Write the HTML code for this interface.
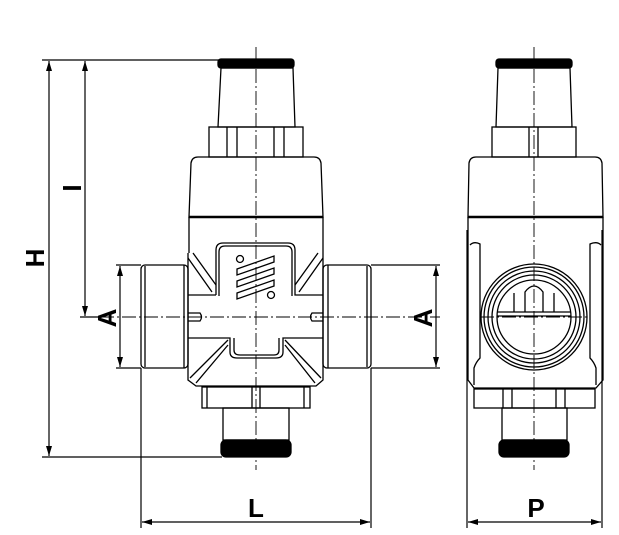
<!DOCTYPE html>
<html><head><meta charset="utf-8"><style>html,body{margin:0;padding:0;background:#fff}svg{display:block}</style></head>
<body>
<svg width="619" height="535" viewBox="0 0 619 535" xmlns="http://www.w3.org/2000/svg" fill="none" stroke="#000" stroke-width="1.3" font-family="Liberation Sans, sans-serif">
<defs>
<marker id="ar" viewBox="0 0 10 6" refX="10" refY="3" markerWidth="10" markerHeight="6" orient="auto-start-reverse" markerUnits="userSpaceOnUse"><path d="M0,0 L10,3 L0,6 Z" fill="#000" stroke="none"/></marker>
</defs>
<g stroke-width="1.2">
<line x1="42" y1="60" x2="219" y2="60"/>
<line x1="42" y1="457" x2="222" y2="457"/>
<line x1="49" y1="61" x2="49" y2="456" marker-start="url(#ar)" marker-end="url(#ar)"/>
<line x1="85" y1="61" x2="85" y2="316" marker-start="url(#ar)" marker-end="url(#ar)"/>
<line x1="80" y1="317" x2="100" y2="317"/>
<line x1="116" y1="265" x2="141" y2="265"/><line x1="116" y1="368" x2="141" y2="368"/>
<line x1="120" y1="266" x2="120" y2="367" marker-start="url(#ar)" marker-end="url(#ar)"/>
<line x1="371" y1="265" x2="440" y2="265"/><line x1="371" y1="368" x2="440" y2="368"/>
<line x1="436" y1="266" x2="436" y2="367" marker-start="url(#ar)" marker-end="url(#ar)"/>
<line x1="141" y1="368" x2="141" y2="528"/><line x1="371" y1="368" x2="371" y2="528"/>
<line x1="142" y1="522" x2="370" y2="522" marker-start="url(#ar)" marker-end="url(#ar)"/>
<line x1="467" y1="230" x2="467" y2="528"/><line x1="602" y1="230" x2="602" y2="528"/>
<line x1="468" y1="522" x2="601" y2="522" marker-start="url(#ar)" marker-end="url(#ar)"/>
</g>
<g fill="#000" stroke="none" font-weight="bold" font-size="26" text-anchor="middle">
<text transform="translate(44,258) rotate(-90)">H</text>
<text transform="translate(81,188) rotate(-90)">I</text>
<text transform="translate(116,318) rotate(-90)">A</text>
<text transform="translate(432,318) rotate(-90)">A</text>
<text x="256" y="517">L</text>
<text x="536" y="517">P</text>
</g>
<g stroke-width="0.9" stroke-dasharray="14,3,2,3">
<line x1="256" y1="47" x2="256" y2="470"/>
<line x1="534" y1="47" x2="534" y2="470"/>
<line x1="100" y1="317" x2="440" y2="317"/>
<line x1="480" y1="317" x2="590" y2="317"/>
</g>
<!-- LEFT VIEW -->
<rect x="218" y="59" width="76" height="9" rx="3" fill="#000"/>
<path d="M221,68 L293,68 L295,127 L218,127 Z"/>
<rect x="209" y="127" width="94" height="30"/>
<path d="M227,127V157M237,127V157M274,127V157M284,127V157"/>
<path d="M189,217 L191,163 Q192,157 198,157 L314,157 Q320,157 321,163 L323,217 Z"/>
<line x1="189" y1="217" x2="323" y2="217" stroke-width="2.5"/>
<path d="M189,217 V253 M323,217 V253"/>
<rect x="141" y="265" width="47" height="103" rx="4"/>
<line x1="145" y1="266" x2="145" y2="367"/>
<line x1="184" y1="265" x2="184" y2="368"/>
<rect x="323" y="265" width="48" height="103" rx="4"/>
<line x1="367" y1="266" x2="367" y2="367"/>
<line x1="328" y1="265" x2="328" y2="368"/>
<path d="M188,253 V380 L196,386 H316 L323,380 V253"/>
<path d="M216,295 V250 Q216,243 223,243 H288 Q295,243 295,250 V295 H323"/>
<path d="M188,295 H216"/>
<path d="M219,296 V252 Q219,246 225,246 H286 Q292,246 292,252 V296"/>
<path d="M188,258 L212,292 M193,253 L216,285 M323,258 L299,292 M318,253 L295,285"/>
<path d="M188,338 H230 V352 Q230,358 237,358 H276 Q283,358 283,352 V338 H323"/>
<path d="M234,338 V350 Q234,355 240,355 H274 Q279,355 279,350 V338"/>
<path d="M228,340 L190,378 M228,345 L196,383 M285,340 L321,378 M285,345 L315,383"/>
<path d="M188,313 H200 Q203,317 200,321 H188 M323,313 H312 Q309,317 312,321 H323"/>
<circle cx="240" cy="259" r="3.5"/><circle cx="271" cy="295" r="3.5"/>
<path d="M237,269 L274,256 L274,262 L237,275 Z M237,281 L274,268 L274,274 L237,287 Z M237,293 L274,280 L274,286 L237,299 Z"/>
<rect x="202" y="387" width="108" height="21"/>
<path d="M207,387V408M252,387V408M260,387V408M304,387V408"/>
<rect x="223" y="408" width="66" height="32"/>
<rect x="221" y="440" width="70" height="17" rx="5" fill="#000"/>
<!-- RIGHT VIEW -->
<rect x="496" y="59" width="76" height="9" rx="3" fill="#000"/>
<path d="M498,68 L570,68 L572,127 L496,127 Z"/>
<rect x="492" y="127" width="84" height="30"/>
<path d="M529,127V157M538,127V157"/>
<path d="M468,217 L469,163 Q470,157 476,157 L595,157 Q601,157 602,163 L603,217 Z"/>
<line x1="468" y1="217" x2="603" y2="217" stroke-width="2.5"/>
<path d="M468,217 V380 L474,388 H596 L603,380 V217"/>
<path d="M470,245 Q474,241 480,244 V358 Q476,362 474,368 V385 M601,245 Q597,241 590,244 V358 Q594,362 596,368 V385"/>
<circle cx="534" cy="317" r="53"/><circle cx="534" cy="317" r="50"/><circle cx="534" cy="317" r="46"/><circle cx="534" cy="317" r="42"/><circle cx="534" cy="317" r="37"/>
<path d="M497,312 H571 M497,316 H571"/>
<path d="M525,312 V292 Q534,280 543,292 V312 M514,312 V293 M554,312 V293"/>
<rect x="474" y="389" width="121" height="19"/>
<path d="M503,389V408M512,389V408M556,389V408M565,389V408"/>
<rect x="502" y="408" width="65" height="32"/>
<rect x="499" y="440" width="70" height="17" rx="5" fill="#000"/>
</svg>
</body></html>
